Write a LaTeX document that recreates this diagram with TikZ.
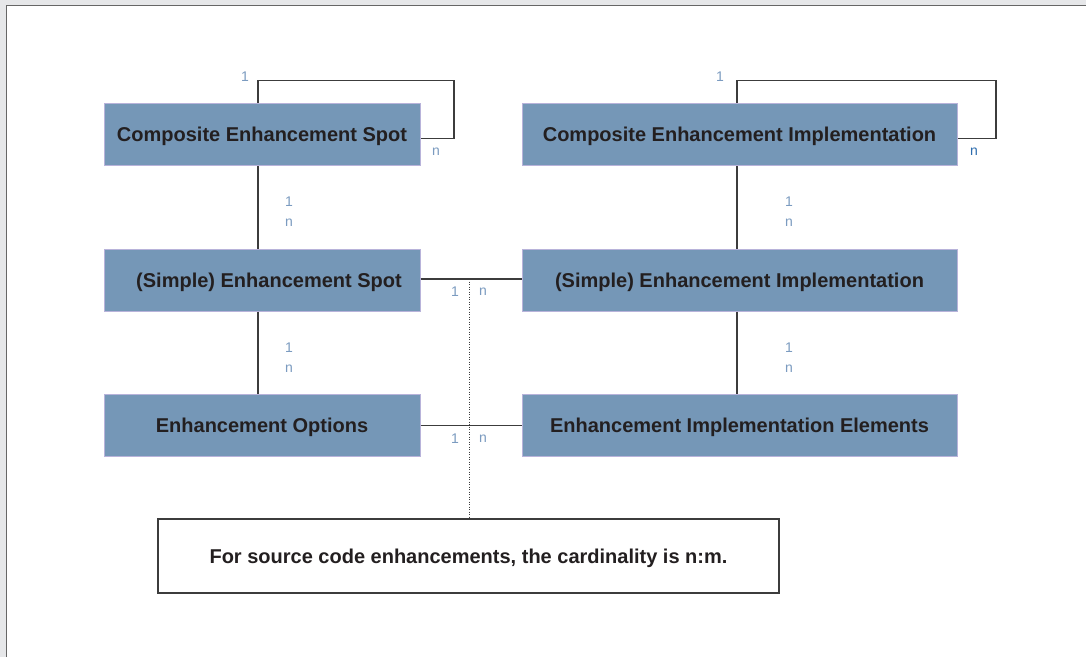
\documentclass[tikz,border=0pt]{standalone}
\usepackage{fontspec}
\setmainfont{Liberation Sans}
\usetikzlibrary{calc}
\definecolor{pagegray}{HTML}{E6E7E9}
\definecolor{framegray}{HTML}{666666}
\definecolor{boxfill}{HTML}{7597B7}
\definecolor{boxedge}{HTML}{B8B3DA}
\definecolor{inkdark}{HTML}{231F20}
\definecolor{linegray}{HTML}{3C3C3C}
\definecolor{cardblue}{HTML}{7B9BC0}
\definecolor{cardstrong}{HTML}{2E6DAE}
\tikzset{
  entity/.style={draw=boxedge, line width=1pt, fill=boxfill, text=inkdark,
    font=\fontsize{20}{24}\selectfont\bfseries, inner sep=0pt, minimum height=62pt,
    text height=14.3pt, text depth=0pt},
  note/.style={draw=linegray, line width=1.2pt, fill=white, text=inkdark,
    font=\fontsize{20}{24}\selectfont\bfseries, inner sep=0pt,
    minimum width=621pt, minimum height=74pt, text height=14.3pt, text depth=0pt},
  conn/.style={draw=linegray, line width=1.3pt},
  hint/.style={draw=linegray, line width=1pt, dash pattern=on 1.2pt off 1.3pt},
  card/.style={text=cardblue, font=\fontsize{14}{16}\selectfont, inner sep=0pt},
}
\begin{document}
\begin{tikzpicture}[x=1pt, y=-1pt]
  % page and frame
  \useasboundingbox (0,0) rectangle (1086,657);
  \fill[pagegray] (0,0) rectangle (1086,657);
  \fill[white] (6.5,5.5) rectangle (1086,657);
  \draw[framegray, line width=1.3pt] (6.5,657) -- (6.5,5.5) -- (1086,5.5);

  % entities
  \node[entity, minimum width=316pt] (ces) at (262,134.5) {Composite Enhancement Spot};
  \node[entity, minimum width=316pt] (ses) at (262,280) {\hspace*{14pt}(Simple) Enhancement Spot};
  \node[entity, minimum width=316pt] (eo)  at (262,425.5) {Enhancement Options};
  \node[entity, minimum width=435pt] (cei) at (739.5,134.5) {Composite Enhancement Implementation};
  \node[entity, minimum width=435pt] (sei) at (739.5,280) {(Simple) Enhancement Implementation};
  \node[entity, minimum width=435pt] (eie) at (739.5,425.5) {Enhancement Implementation Elements};

  \node[note] (nt) at (468.5,556) {For source code enhancements, the cardinality is n:m.};

  % connector columns and loop corners
  \coordinate (lc) at (258,0);
  \coordinate (rc) at (737,0);
  \coordinate (lloopA) at (258,80.5);
  \coordinate (lloopB) at (454,138.5);
  \coordinate (rloopA) at (737,80.5);
  \coordinate (rloopB) at (996,138.5);
  \coordinate (dtop) at (469,279);

  % self relations of the composites
  \draw[conn] (ces.north -| lloopA) -- (lloopA) -| (lloopB) -- (lloopB -| ces.east);
  \draw[conn] (cei.north -| rloopA) -- (rloopA) -| (rloopB) -- (rloopB -| cei.east);

  % vertical relations
  \draw[conn] (ces.south -| lc) -- (ses.north -| lc);
  \draw[conn] (ses.south -| lc) -- (eo.north -| lc);
  \draw[conn] (cei.south -| rc) -- (sei.north -| rc);
  \draw[conn] (sei.south -| rc) -- (eie.north -| rc);

  % horizontal relations
  \draw[conn] (ses.east |- dtop) -- (sei.west |- dtop);
  \draw[conn] (eo.east) -- (eie.west);

  % link to the note
  \draw[hint] (dtop) -- (nt.north -| dtop);

  % cardinalities
  \node[card] (c1) at (245,77) {1};
  \node[card] (c2) at (436,152) {n};
  \node[card] (c3) at (720,77) {1};
  \node[card, text=cardstrong] (c4) at (974,152) {n};
  \node[card] (c5) at (289,202) {1};
  \node[card] (c6) at (289,222.5) {n};
  \node[card] (c7) at (789,202) {1};
  \node[card] (c8) at (789,222.5) {n};
  \node[card] (c9) at (289,348) {1};
  \node[card] (c10) at (289,369) {n};
  \node[card] (c11) at (789,348) {1};
  \node[card] (c12) at (789,369) {n};
  \node[card] (c13) at (455,292) {1};
  \node[card] (c14) at (483,292) {n};
  \node[card] (c15) at (455,438.5) {1};
  \node[card] (c16) at (483,438.5) {n};
\end{tikzpicture}
\end{document}
